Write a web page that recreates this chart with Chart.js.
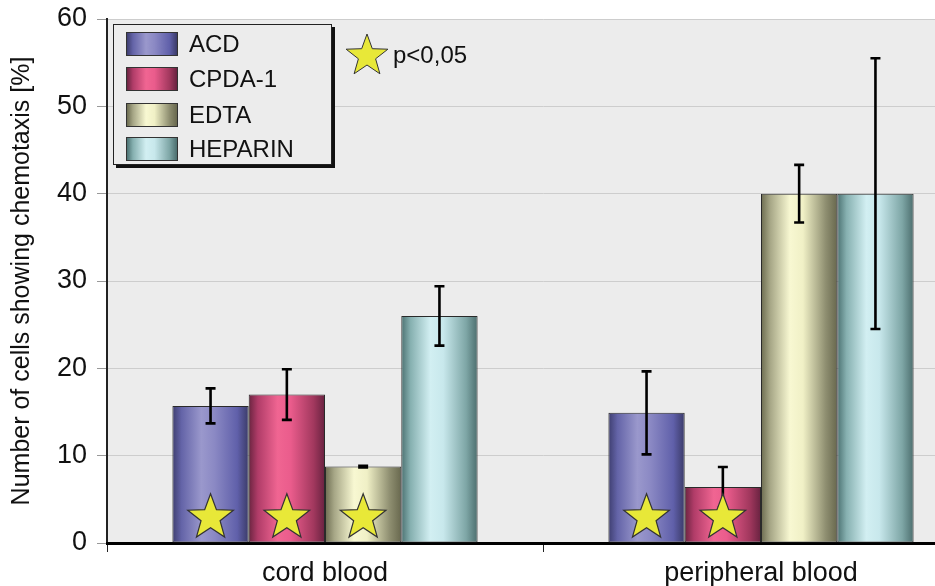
<!DOCTYPE html>
<html>
<head>
<meta charset="utf-8">
<title>Chemotaxis by anticoagulant</title>
<script src="https://cdn.jsdelivr.net/npm/chart.js@4"></script>
<style>
  html, body { margin: 0; padding: 0; background: #fff; overflow: hidden; }
  #wrap { position: relative; width: 980px; height: 586px; }
  #legend {
    position: absolute; left: 113px; top: 24px; width: 217px; height: 139px;
    border: 1.5px solid #222; background: #ececec; box-shadow: 3px 3px 0 #111;
    font-family: "Liberation Sans", Arial, sans-serif; font-size: 24px; color: #111;
  }
  .row { position: absolute; left: 12px; height: 24px; display: flex; align-items: center; }
  .sw { width: 50px; height: 22px; border: 1px solid #333; margin-right: 11px; }
  #sig {
    position: absolute; left: 343px; top: 32px; display: flex; align-items: center;
    font-family: "Liberation Sans", Arial, sans-serif; font-size: 24px; color: #111;
  }
  #sig svg { margin-right: 2px; }
</style>
</head>
<body>
<div id="wrap">
  <canvas id="chemoChart"></canvas>
  <div id="legend"></div>
  <div id="sig">
    <svg width="48" height="46" viewBox="-24 -24 48 46"><polygon id="sigStar" fill="#e8e838" stroke="#333" stroke-width="1"/></svg>
    <span>p&lt;0,05</span>
  </div>
</div>
<script>
'use strict';

/* --------------------------------------------------------------------------
   DATA
   -------------------------------------------------------------------------- */
const categories = ['cord blood', 'peripheral blood'];
const seriesNames = ['ACD', 'CPDA-1', 'EDTA', 'HEPARIN'];

const acdValues      = [15.7, 14.9];
const cpdaValues     = [17.0, 6.4];
const edtaValues     = [8.75, 40.0];
const heparinValues  = [26.0, 40.0];

const acdErrors      = [2.0, 4.75];
const cpdaErrors     = [2.9, 2.3];
const edtaErrors     = [0.1, 3.3];
const heparinErrors  = [3.4, 15.5];

// p<0,05 markers
const acdSignificant     = [true, true];
const cpdaSignificant    = [true, true];
const edtaSignificant    = [true, false];
const heparinSignificant = [false, false];

const yMin = 0, yMax = 60, yStep = 10;

/* --------------------------------------------------------------------------
   STYLE — cylinder-like horizontal shading per series
   -------------------------------------------------------------------------- */
const shadeStops = [0, 0.12, 0.38, 0.55, 0.85, 1];
const SHADES = {
    acd:     ['#3e3e70', '#6464a8', '#9a98cc', '#8b89c4', '#6060aa', '#3a3a68'],
    cpda:    ['#6a2440', '#b03c68', '#f06592', '#ea5c8c', '#a2385e', '#682240'],
    edta:    ['#6c6c50', '#a6a686', '#f8f8d2', '#f0f0c6', '#8e8e70', '#68684e'],
    heparin: ['#4c7272', '#86b0b0', '#d2eff2', '#c8e8ec', '#7ea6a6', '#4c6e6e'],
};
const FONT = '"Liberation Sans", Arial, sans-serif';

function starPoints(R, r) {
    const pts = [];
    for (let i = 0; i < 10; i++) {
        const rad = i % 2 === 0 ? R : r;
        const a = -Math.PI / 2 + i * Math.PI / 5;
        pts.push([rad * Math.cos(a), rad * Math.sin(a)]);
    }
    return pts;
}

/* --------------------------------------------------------------------------
   PLUGINS
   -------------------------------------------------------------------------- */
const plotDecor = {
    id: 'plotDecor',
    beforeDraw(chart) {
        const { ctx, chartArea: a } = chart;
        ctx.save();
        ctx.fillStyle = '#ececec';
        ctx.fillRect(a.left, a.top, a.right - a.left, a.bottom - a.top);
        ctx.restore();
    },
    beforeDatasetsDraw(chart) {
        chart.data.datasets.forEach((ds, di) => {
            chart.getDatasetMeta(di).data.forEach(bar => {
                const g = chart.ctx.createLinearGradient(bar.x - bar.width / 2, 0, bar.x + bar.width / 2, 0);
                ds.shade.forEach((c, i) => g.addColorStop(shadeStops[i], c));
                bar.options.backgroundColor = g;
            });
        });
    },
    afterDatasetsDraw(chart) {
        const { ctx } = chart;
        const y = chart.scales.y;
        ctx.save();
        // error bars
        chart.data.datasets.forEach((ds, di) => {
            chart.getDatasetMeta(di).data.forEach((bar, i) => {
                const v = ds.data[i], e = ds.errors[i];
                const top = y.getPixelForValue(v + e), bot = y.getPixelForValue(v - e);
                ctx.strokeStyle = '#000';
                ctx.lineWidth = 2.6;
                ctx.beginPath();
                ctx.moveTo(bar.x, top); ctx.lineTo(bar.x, bot);
                ctx.moveTo(bar.x - 5, top); ctx.lineTo(bar.x + 5, top);
                ctx.moveTo(bar.x - 5, bot); ctx.lineTo(bar.x + 5, bot);
                ctx.stroke();
            });
        });
        // significance stars
        const cy = y.getPixelForValue(2.9);
        chart.data.datasets.forEach((ds, di) => {
            chart.getDatasetMeta(di).data.forEach((bar, i) => {
                if (!ds.significant[i]) return;
                ctx.beginPath();
                starPoints(24, 10).forEach(([px, py], k) => {
                    k === 0 ? ctx.moveTo(bar.x + px, cy + py) : ctx.lineTo(bar.x + px, cy + py);
                });
                ctx.closePath();
                ctx.fillStyle = '#e8e838';
                ctx.fill();
                ctx.lineWidth = 1.2;
                ctx.strokeStyle = '#333';
                ctx.stroke();
            });
        });
        ctx.restore();
    },
};

/* --------------------------------------------------------------------------
   CHART
   -------------------------------------------------------------------------- */
function makeSet(label, data, errors, significant, shade) {
    return {
        label, data, errors, significant, shade,
        backgroundColor: () => shade[2],
        borderColor: '#2a2a2a', borderWidth: 1, borderSkipped: false,
        categoryPercentage: 0.70, barPercentage: 1.0,
    };
}

const ctx = document.getElementById('chemoChart').getContext('2d');
new Chart(ctx, {
    type: 'bar',
    data: {
        labels: categories,
        datasets: [
            makeSet(seriesNames[0], acdValues, acdErrors, acdSignificant, SHADES.acd),
            makeSet(seriesNames[1], cpdaValues, cpdaErrors, cpdaSignificant, SHADES.cpda),
            makeSet(seriesNames[2], edtaValues, edtaErrors, edtaSignificant, SHADES.edta),
            makeSet(seriesNames[3], heparinValues, heparinErrors, heparinSignificant, SHADES.heparin),
        ],
    },
    options: {
        responsive: true, maintainAspectRatio: false, animation: false,
        layout: { padding: { top: 19, left: 7, right: 1, bottom: 0 } },
        plugins: { legend: { display: false }, tooltip: { enabled: false } },
        scales: {
            y: {
                min: yMin, max: yMax,
                ticks: { stepSize: yStep, color: '#111', padding: 10, font: { family: FONT, size: 27 } },
                grid: { color: '#cdcdcd', tickColor: '#999', tickLength: 10 },
                border: { color: '#222', width: 2 },
                title: { display: true, text: 'Number of cells showing chemotaxis [%]', color: '#111', padding: 0, font: { family: FONT, size: 25 } },
                afterFit: s => { s.width = 100; s.paddingTop = 0; s.paddingBottom = 0; },
            },
            x: {
                ticks: { color: '#111', padding: 5, font: { family: FONT, size: 27 } },
                grid: { drawOnChartArea: false, offset: true, tickLength: 9, tickColor: '#222' },
                border: { color: '#000', width: 3 },
                afterFit: s => { s.height = 43; },
            },
        },
    },
    plugins: [plotDecor],
});

/* --------------------------------------------------------------------------
   LEGEND (HTML overlay)
   -------------------------------------------------------------------------- */
const legendShades = [SHADES.acd, SHADES.cpda, SHADES.edta, SHADES.heparin];
const legendTops = [7, 42, 78, 112];
const legendEl = document.getElementById('legend');
seriesNames.forEach((name, i) => {
    const row = document.createElement('div');
    row.className = 'row';
    row.style.top = legendTops[i] + 'px';
    const sw = document.createElement('div');
    sw.className = 'sw';
    sw.style.background = 'linear-gradient(to right, ' +
        legendShades[i].map((c, k) => c + ' ' + Math.round(shadeStops[k] * 100) + '%').join(', ') + ')';
    const txt = document.createElement('span');
    txt.textContent = name;
    row.appendChild(sw);
    row.appendChild(txt);
    legendEl.appendChild(row);
});
document.getElementById('sigStar').setAttribute('points',
    starPoints(22, 9).map(p => p[0].toFixed(1) + ',' + p[1].toFixed(1)).join(' '));
</script>
</body>
</html>
